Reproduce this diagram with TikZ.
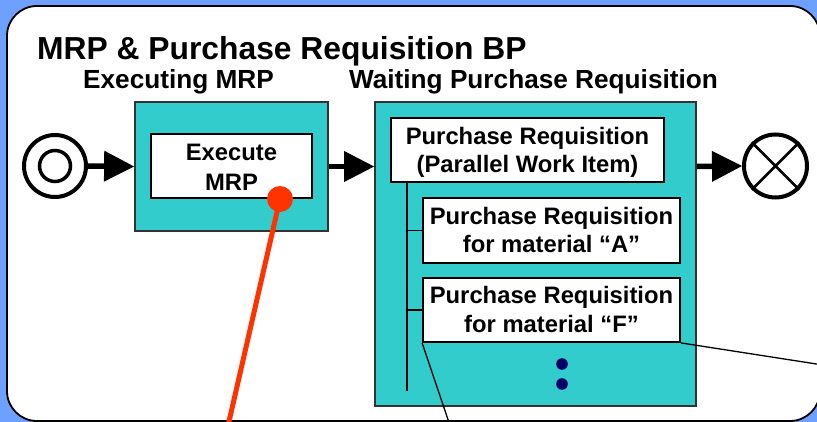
\documentclass[tikz,border=0pt]{standalone}
\usepackage{fontspec}
\setmainfont{Liberation Sans}
\usetikzlibrary{arrows.meta}
\definecolor{bgblue}{RGB}{110,160,255}
\definecolor{poolteal}{RGB}{51,204,204}
\definecolor{pinred}{RGB}{255,51,0}
\definecolor{dotnavy}{RGB}{0,0,102}
\newcommand{\titlefont}{\bfseries\fontsize{31.8}{36}\selectfont}
\newcommand{\stagefont}{\bfseries\fontsize{26.2}{30}\selectfont}
\newcommand{\taskfont}{\bfseries\fontsize{23.8}{28}\selectfont}
\begin{document}
\begin{tikzpicture}[x=1pt,y=-1pt,
  tealbox/.style={draw=black!80, line width=1.8pt, fill=poolteal, inner sep=0pt},
  taskbox/.style={draw=black, line width=1.8pt, fill=white, inner sep=0pt},
  tasktext/.style={anchor=base, font=\taskfont, inner sep=0pt},
  stagetext/.style={anchor=base, font=\stagefont, inner sep=0pt},
  flow/.style={line width=5.5pt, -{Triangle[length=30pt,width=31pt,line width=0pt]}},
  branch/.style={line width=1.4pt},
  leader/.style={line width=1.3pt}]
\useasboundingbox (0,0) rectangle (817,422);
\clip (0,0) rectangle (817,422);
% backdrop and panel
\fill[bgblue] (0,0) rectangle (817,422);
\draw[fill=white, line width=1.8pt, rounded corners=30pt] (7,6) rectangle (820,421);

% headings
\node[anchor=base west, font=\titlefont, inner sep=0pt] (title) at (37,60) {MRP \& Purchase Requisition BP};
\node[stagetext] (lblexec) at (178.5,89) {Executing MRP};
\node[stagetext] (lblwait) at (533.5,89) {Waiting Purchase Requisition};

% events
\node[draw, circle, line width=4pt, minimum size=62pt, inner sep=0pt] (start) at (55,166) {};
\node[draw, circle, line width=3.5pt, minimum size=31pt, inner sep=0pt] (startin) at (55,166) {};
\node[draw, circle, line width=4pt, minimum size=63pt, inner sep=0pt] (end) at (775.5,166) {};
\draw[line width=2.5pt] (end.45) -- (end.225) (end.135) -- (end.315);

% stage boxes
\node[tealbox, minimum width=193pt, minimum height=129pt] (exec) at (231.5,166.5) {};
\node[tealbox, minimum width=321pt, minimum height=304pt] (wait) at (535.5,254) {};

% tasks
\node[taskbox, minimum width=161pt, minimum height=64pt] (execmrp) at (231.5,166) {};
\node[tasktext] (execA) at (231.5,161) {Execute};
\node[tasktext] (execB) at (231.5,191) {MRP};

\node[taskbox, minimum width=273pt, minimum height=64pt] (pr) at (527.5,150) {};
\node[tasktext] (prA) at (527.5,145) {Purchase Requisition};
\node[tasktext] (prB) at (527.5,173) {(Parallel Work Item)};

\node[taskbox, minimum width=257pt, minimum height=65pt] (prA1) at (551.5,230.5) {};
\node[tasktext] (prAa) at (551.5,225) {Purchase Requisition};
\node[tasktext] (prAb) at (551.5,253) {for material “A”};

\node[taskbox, minimum width=257pt, minimum height=64pt] (prF1) at (551.5,310) {};
\node[tasktext] (prFa) at (551.5,304) {Purchase Requisition};
\node[tasktext] (prFb) at (551.5,332) {for material “F”};

% parallel branch rail
\coordinate (railtop) at (407,182);
\coordinate (railbot) at (407,391);
\draw[branch] (railtop) -- (railbot);
\draw[branch] (railtop |- prA1.west) -- (prA1.west);
\draw[branch] (railtop |- prF1.west) -- (prF1.west);

% more items
\fill[dotnavy] (562,364) circle (5.8pt);
\fill[dotnavy] (562,384) circle (5.8pt);

% sequence flows
\draw[flow] (start.east) -- (exec.west);
\draw[flow] (exec.east) -- (exec.east -| wait.west);
\draw[flow] (exec.east -| wait.east) -- (end.west);

% zoom leaders
\coordinate (leadL) at (452.2,432);
\coordinate (leadR) at (830,366.1);
\draw[leader] (prF1.south west) -- (leadL);
\draw[leader] (prF1.south east) -- (leadR);

% pin
\coordinate (pinend) at (226.6,432);
\draw[pinred, line width=5pt] (280,199) -- (pinend);
\node[circle, fill=pinred, minimum size=26pt, inner sep=0pt] (pin) at (280,199) {};
\end{tikzpicture}
\end{document}
